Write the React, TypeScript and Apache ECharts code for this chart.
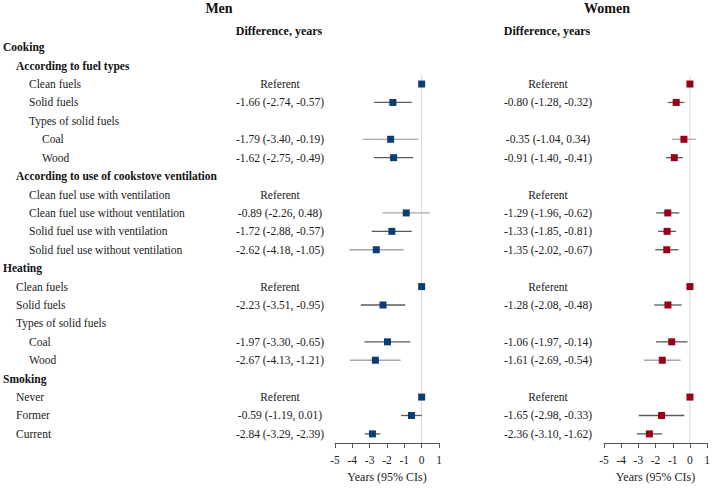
import React, { useEffect, useRef } from "react";
import * as echarts from "echarts";

const rowLabels = [
  "Cooking",
  "According to fuel types",
  "Clean fuels",
  "Solid fuels",
  "Types of solid fuels",
  "Coal",
  "Wood",
  "According to use of cookstove ventilation",
  "Clean fuel use with ventilation",
  "Clean fuel use without ventilation",
  "Solid fuel use with ventilation",
  "Solid fuel use without ventilation",
  "Heating",
  "Clean fuels",
  "Solid fuels",
  "Types of solid fuels",
  "Coal",
  "Wood",
  "Smoking",
  "Never",
  "Former",
  "Current",
];
// style key per row: h0 = bold heading, h1 = bold subheading, i1/i2/i3 = indented items
const rowStyles = [
  "h0", "h1", "i2", "i2", "i2", "i3", "i3", "h1", "i2", "i2", "i2", "i2",
  "h0", "i1", "i1", "i1", "i2", "i2", "h0", "i1", "i1", "i1",
];
// referent rows: "r" = referent with marker, "t" = referent text only
const refRows = [
  null, null, "r", null, null, null, null, null, "t", null, null, null,
  null, "r", null, null, null, null, null, "r", null, null,
];

const menEst = [null, null, null, -1.66, null, -1.79, -1.62, null, null, -0.89, -1.72, -2.62, null, null, -2.23, null, -1.97, -2.67, null, null, -0.59, -2.84];
const menLo = [null, null, null, -2.74, null, -3.40, -2.75, null, null, -2.26, -2.88, -4.18, null, null, -3.51, null, -3.30, -4.13, null, null, -1.19, -3.29];
const menHi = [null, null, null, -0.57, null, -0.19, -0.49, null, null, 0.48, -0.57, -1.05, null, null, -0.95, null, -0.65, -1.21, null, null, 0.01, -2.39];
const menCiShade = ["", "", "", "d", "", "l", "d", "", "", "l", "d", "l", "", "", "d", "", "d", "l", "", "", "d", "d"];

const womenEst = [null, null, null, -0.80, null, -0.35, -0.91, null, null, -1.29, -1.33, -1.35, null, null, -1.28, null, -1.06, -1.61, null, null, -1.65, -2.36];
const womenLo = [null, null, null, -1.28, null, -1.04, -1.40, null, null, -1.96, -1.85, -2.02, null, null, -2.08, null, -1.97, -2.69, null, null, -2.98, -3.10];
const womenHi = [null, null, null, -0.32, null, 0.34, -0.41, null, null, -0.62, -0.81, -0.67, null, null, -0.48, null, -0.14, -0.54, null, null, -0.33, -1.62];
const womenCiShade = ["", "", "", "d", "", "l", "d", "", "", "d", "d", "d", "", "", "d", "", "d", "l", "", "", "d", "d"];

const xTicksMin = -5;
const xTicksMax = 1;

const FONT = "Liberation Serif";
const MEN_COLOR = "#0c3d72";
const WOMEN_COLOR = "#990016";
const CI_DARK = "#5a5a5a";
const CI_LIGHT = "#a8a8a8";

function fmt(v: number) {
  return v.toFixed(2);
}
function valueText(est: (number | null)[], lo: (number | null)[], hi: (number | null)[], i: number) {
  if (refRows[i]) return "Referent";
  if (est[i] === null) return "";
  return `${fmt(est[i] as number)} (${fmt(lo[i] as number)}, ${fmt(hi[i] as number)})`;
}

export default function App() {
  const ref = useRef<HTMLDivElement>(null);
  useEffect(() => {
    document.body.style.margin = "0";
    const chart = echarts.init(ref.current!, null, { renderer: "svg" });
    const n = rowLabels.length;
    const gridTop = 38;
    const gridHeight = 407;
    const grids = [
      { left: 334, top: gridTop, width: 105, height: gridHeight },
      { left: 604, top: gridTop, width: 105, height: gridHeight },
    ];
    const xAxisCommon = {
      type: "value",
      position: "bottom",
      min: xTicksMin,
      max: xTicksMax,
      interval: 1,
      splitLine: { show: false },
      axisLine: { show: true, onZero: false, lineStyle: { color: "#555", width: 1 } },
      axisTick: { show: true, length: 5, lineStyle: { color: "#555" } },
      axisLabel: { fontFamily: FONT, fontSize: 11.5, color: "#222", margin: 11 },
      name: "Years (95% CIs)",
      nameLocation: "middle",
      nameGap: 26,
      nameTextStyle: { fontFamily: FONT, fontSize: 12, color: "#222" },
    };
    const idx = rowLabels.map((_, i) => String(i));
    const catAxis = (gridIndex: number, margin: number, align: string, formatter: any, rich?: any) => ({
      type: "category",
      gridIndex,
      position: "left",
      offset: 0,
      data: idx,
      inverse: true,
      axisLine: { show: false },
      axisTick: { show: false },
      splitLine: { show: false },
      axisLabel: {
        interval: 0,
        margin,
        align,
        fontFamily: FONT,
        fontSize: 11.5,
        color: "#1a1a1a",
        formatter,
        rich,
      },
    });
    const valueY = (gridIndex: number) => ({
      type: "value",
      gridIndex,
      position: "left",
      min: 0,
      max: n,
      inverse: true,
      show: false,
    });
    const rich: any = {
      h0: { fontFamily: FONT, fontSize: 11.5, fontWeight: "bold", color: "#111", padding: [0, 0, 0, 0] },
      h1: { fontFamily: FONT, fontSize: 11.5, fontWeight: "bold", color: "#111", padding: [0, 0, 0, 13] },
      i1: { fontFamily: FONT, fontSize: 11.5, color: "#1a1a1a", padding: [0, 0, 0, 13] },
      i2: { fontFamily: FONT, fontSize: 11.5, color: "#1a1a1a", padding: [0, 0, 0, 26] },
      i3: { fontFamily: FONT, fontSize: 11.5, color: "#1a1a1a", padding: [0, 0, 0, 39] },
    };

    const ciSeries = (name: string, xAxisIndex: number, yAxisIndex: number, lo: any[], hi: any[], shade: string[]) => ({
      type: "custom",
      name,
      xAxisIndex,
      yAxisIndex,
      silent: true,
      data: lo
        .map((l, i) => (l === null ? null : [l, hi[i], i + 0.5, shade[i] === "l" ? 1 : 0]))
        .filter((d) => d !== null),
      encode: { x: [0, 1], y: 2 },
      renderItem: (params: any, api: any) => {
        const p1 = api.coord([api.value(0), api.value(2)]);
        const p2 = api.coord([api.value(1), api.value(2)]);
        return {
          type: "line",
          shape: { x1: p1[0], y1: p1[1], x2: p2[0], y2: p2[1] },
          style: { stroke: api.value(3) === 1 ? CI_LIGHT : CI_DARK, lineWidth: 1.3 },
        };
      },
      z: 2,
    });
    const pointSeries = (name: string, xAxisIndex: number, yAxisIndex: number, est: any[], color: string) => ({
      type: "scatter",
      name,
      xAxisIndex,
      yAxisIndex,
      symbol: "rect",
      symbolSize: 7,
      itemStyle: { color, opacity: 1 },
      data: est
        .map((e, i) => (refRows[i] === "r" ? [0, i + 0.5] : e === null ? null : [e, i + 0.5]))
        .filter((d) => d !== null),
      z: 3,
    });
    const refLine = (xAxisIndex: number, yAxisIndex: number) => ({
      type: "line",
      xAxisIndex,
      yAxisIndex,
      symbol: "none",
      silent: true,
      lineStyle: { color: "#d8d8d8", width: 1 },
      data: [
        [0, 2],
        [0, n],
      ],
      z: 1,
    });

    const option: any = {
      animation: false,
      backgroundColor: "#fff",
      textStyle: { fontFamily: FONT },
      grid: grids,
      xAxis: [
        { ...xAxisCommon, gridIndex: 0 },
        { ...xAxisCommon, gridIndex: 1 },
      ],
      yAxis: [
        catAxis(0, 332, "left", (_v: string, i: number) => `{${rowStyles[i]}|${rowLabels[i]}}`, rich),
        catAxis(0, 55, "center", (_v: string, i: number) => valueText(menEst, menLo, menHi, i)),
        valueY(0),
        catAxis(1, 56, "center", (_v: string, i: number) => valueText(womenEst, womenLo, womenHi, i)),
        valueY(1),
      ],
      graphic: [
        { type: "text", x: 219, y: 8, style: { text: "Men", textAlign: "center", textVerticalAlign: "middle", fontFamily: FONT, fontSize: 14, fontWeight: "bold", fill: "#111" } },
        { type: "text", x: 279, y: 31, style: { text: "Difference, years", textAlign: "center", textVerticalAlign: "middle", fontFamily: FONT, fontSize: 12, fontWeight: "bold", fill: "#111" } },
        { type: "text", x: 607, y: 8, style: { text: "Women", textAlign: "center", textVerticalAlign: "middle", fontFamily: FONT, fontSize: 14, fontWeight: "bold", fill: "#111" } },
        { type: "text", x: 547, y: 31, style: { text: "Difference, years", textAlign: "center", textVerticalAlign: "middle", fontFamily: FONT, fontSize: 12, fontWeight: "bold", fill: "#111" } },
      ],
      series: [
        refLine(0, 2),
        refLine(1, 4),
        ciSeries("Men CI", 0, 2, menLo, menHi, menCiShade),
        ciSeries("Women CI", 1, 4, womenLo, womenHi, womenCiShade),
        pointSeries("Men", 0, 2, menEst, MEN_COLOR),
        pointSeries("Women", 1, 4, womenEst, WOMEN_COLOR),
      ],
    };
    chart.setOption(option);
    return () => chart.dispose();
  }, []);
  return <div ref={ref} style={{ width: 713, height: 488 }} />;
}
